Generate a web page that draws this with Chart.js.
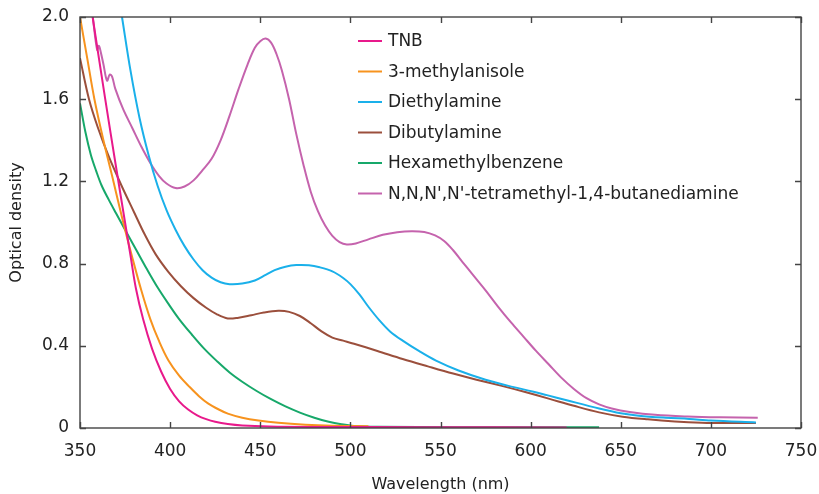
<!DOCTYPE html>
<html>
<head>
<meta charset="utf-8">
<script src="https://cdn.jsdelivr.net/npm/chart.js@4.4.1/dist/chart.umd.min.js"></script>
<style>
  html,body{margin:0;padding:0;background:#fff;}
  #c{display:block;}
</style>
</head>
<body>
<canvas id="c" width="819" height="494"></canvas>
<script>
// absorbance spectra, values
const xTicks = [350, 400, 450, 500, 550, 600, 650, 700, 750];
const yTicks = [0, 0.4, 0.8, 1.2, 1.6, 2.0];

const names = ['TNB', '3-methylanisole', 'Diethylamine', 'Dibutylamine', 'Hexamethylbenzene', "N,N,N',N'-tetramethyl-1,4-butanediamine"];
const colors = ['#e8198b', '#f7931e', '#1ab0ea', '#9b4f3c', '#17a86a', '#c563ad'];

const tnbNm = [357, 364, 370, 375, 378, 381, 385, 390, 395, 400, 405, 410, 415, 420, 425, 432, 440, 455, 480, 540, 620];
const tnbOd = [2.0, 1.6, 1.27, 1.0, 0.84, 0.68, 0.53, 0.385, 0.275, 0.19, 0.13, 0.09, 0.062, 0.043, 0.03, 0.019, 0.012, 0.007, 0.005, 0.004, 0.003];

const anisNm = [350, 354, 358, 363, 368, 374, 379, 384, 389, 394, 399, 405, 411, 416, 421, 427, 432, 440, 449, 460, 475, 490, 510];
const anisOd = [2.0, 1.8, 1.6, 1.4, 1.22, 1.0, 0.83, 0.67, 0.53, 0.42, 0.33, 0.255, 0.198, 0.155, 0.12, 0.09, 0.07, 0.05, 0.036, 0.025, 0.016, 0.011, 0.008];

const dieNm = [373.3, 378, 383, 388, 393, 398, 403, 408, 413, 418, 423, 428, 433, 440, 447, 453, 458, 464, 470, 477, 483, 490, 496, 500, 505, 510, 516, 522, 529, 538, 547.5, 560, 575, 590, 601, 609, 620, 638, 650, 660, 675, 688, 700, 725];
const dieOd = [2.0, 1.74, 1.51, 1.33, 1.18, 1.06, 0.965, 0.885, 0.82, 0.768, 0.732, 0.709, 0.7, 0.703, 0.718, 0.745, 0.768, 0.785, 0.793, 0.792, 0.782, 0.762, 0.73, 0.7, 0.65, 0.59, 0.525, 0.47, 0.425, 0.375, 0.328, 0.28, 0.235, 0.2, 0.178, 0.16, 0.135, 0.095, 0.072, 0.06, 0.05, 0.044, 0.036, 0.027];

const dibNm = [350, 355, 360, 366, 373, 380, 386, 392, 399, 406, 413, 420, 426, 432, 438, 445, 452, 460, 466, 472, 478, 484, 490, 496, 502, 515, 529, 543, 557, 570, 584, 597, 610, 624, 638, 651, 665, 680, 695, 710, 725];
const dibOd = [1.8, 1.6, 1.46, 1.32, 1.18, 1.05, 0.94, 0.845, 0.76, 0.69, 0.632, 0.585, 0.553, 0.533, 0.537, 0.549, 0.562, 0.57, 0.565, 0.545, 0.51, 0.47, 0.44, 0.425, 0.41, 0.375, 0.336, 0.3, 0.265, 0.235, 0.205, 0.175, 0.143, 0.108, 0.076, 0.055, 0.042, 0.032, 0.026, 0.024, 0.024];

const hmbNm = [350, 353, 356, 359, 362, 366, 370, 375, 381, 387, 393, 399, 405, 412, 419, 426, 433, 440, 448, 456, 464, 472, 480, 488, 495, 502, 515, 560, 638];
const hmbOd = [1.58, 1.44, 1.33, 1.25, 1.18, 1.11, 1.045, 0.965, 0.87, 0.775, 0.685, 0.605, 0.53, 0.455, 0.385, 0.325, 0.27, 0.225, 0.18, 0.14, 0.105, 0.075, 0.05, 0.03, 0.018, 0.01, 0.006, 0.004, 0.004];

const tmbNm = [357.1, 359.5, 360.5, 361.5, 363, 365, 366.5, 367.8, 369.6, 374, 379, 384, 389, 394, 398, 403, 408, 413, 418, 423, 428, 433, 438, 443, 447, 450, 453, 456, 459, 462, 466, 470, 474, 478, 482, 486, 490, 494, 498, 503, 510, 518, 526, 534, 541, 547, 552, 557, 562, 568, 575, 582, 589, 596, 603, 610, 617, 624, 631, 638, 645, 655, 669, 687, 705, 726];
const tmbOd = [2.0, 1.84, 1.86, 1.83, 1.77, 1.69, 1.72, 1.71, 1.65, 1.55, 1.46, 1.37, 1.29, 1.225, 1.19, 1.168, 1.175, 1.205, 1.255, 1.31, 1.4, 1.52, 1.65, 1.77, 1.85, 1.882, 1.895, 1.875, 1.82, 1.74, 1.6, 1.43, 1.28, 1.15, 1.055, 0.985, 0.935, 0.905, 0.893, 0.898, 0.918, 0.94, 0.953, 0.958, 0.954, 0.937, 0.91, 0.865, 0.81, 0.745, 0.67, 0.59, 0.515, 0.445, 0.375, 0.31, 0.245, 0.19, 0.145, 0.115, 0.095, 0.078, 0.064, 0.056, 0.052, 0.05];

const series = [[tnbNm, tnbOd], [anisNm, anisOd], [dieNm, dieOd], [dibNm, dibOd], [hmbNm, hmbOd], [tmbNm, tmbOd]];

const FONT = '"DejaVu Sans", "Liberation Sans", Arial, sans-serif';
const AXIS = '#444';

// frame + inward ticks on all four sides, like the original
const framePlugin = {
  id: 'frame',
  afterDatasetsDraw(chart){
    const {ctx, chartArea: a, scales: {x, y}} = chart;
    const len = 6;
    ctx.save();
    ctx.strokeStyle = AXIS;
    ctx.lineWidth = 1.4;
    ctx.strokeRect(a.left, a.top, a.right - a.left, a.bottom - a.top);
    ctx.beginPath();
    xTicks.forEach(v=>{
      const px = Math.round(x.getPixelForValue(v)) + 0.5;
      ctx.moveTo(px, a.bottom); ctx.lineTo(px, a.bottom - len);
      ctx.moveTo(px, a.top); ctx.lineTo(px, a.top + len);
    });
    yTicks.forEach(v=>{
      const py = Math.round(y.getPixelForValue(v)) + 0.5;
      ctx.moveTo(a.left, py); ctx.lineTo(a.left + len, py);
      ctx.moveTo(a.right, py); ctx.lineTo(a.right - len, py);
    });
    ctx.stroke();
    ctx.restore();
  }
};

// legend drawn inside the plot area
const legendPlugin = {
  id: 'inLegend',
  afterDraw(chart){
    const ctx = chart.ctx;
    ctx.save();
    ctx.font = '17px ' + FONT;
    ctx.textBaseline = 'middle';
    chart.data.datasets.forEach((d, i)=>{
      const yy = 41 + i * 30.5;
      ctx.strokeStyle = d.borderColor;
      ctx.lineWidth = 2;
      ctx.beginPath(); ctx.moveTo(358, yy); ctx.lineTo(382, yy); ctx.stroke();
      ctx.fillStyle = '#222';
      ctx.fillText(d.label, 388, yy + 1);
    });
    ctx.restore();
  }
};

const datasets = series.map((s, i)=>({
  label: names[i],
  data: s[0].map((nm, k)=>({x: nm, y: s[1][k]})),
  borderColor: colors[i],
  backgroundColor: colors[i],
  borderWidth: 2,
  pointRadius: 0,
  tension: 0.35,
  fill: false
}));

new Chart(document.getElementById('c'), {
  type: 'line',
  data: { datasets },
  plugins: [framePlugin, legendPlugin],
  options: {
    responsive: false,
    animation: false,
    layout: { padding: { top: 17, right: 18, left: 0, bottom: 0 } },
    plugins: { legend: { display: false }, tooltip: { enabled: false } },
    scales: {
      x: {
        type: 'linear', min: 350, max: 750,
        afterBuildTicks: s=>{ s.ticks = xTicks.map(v=>({value: v})); },
        afterFit: s=>{ s.height = 66; s.paddingLeft = 0; s.paddingRight = 0; },
        grid: { display: false, drawTicks: false },
        border: { display: false },
        ticks: { padding: 13, color: '#222', font: { family: FONT, size: 17 }, maxRotation: 0 },
        title: { display: true, text: 'Wavelength (nm)', color: '#222', font: { family: FONT, size: 16 }, padding: { top: 0, bottom: 0 } }
      },
      y: {
        type: 'linear', min: 0, max: 2,
        afterBuildTicks: s=>{ s.ticks = yTicks.map(v=>({value: v})); },
        afterFit: s=>{ s.width = 80; s.paddingTop = 0; s.paddingBottom = 0; },
        grid: { display: false, drawTicks: false },
        border: { display: false },
        ticks: { padding: 11, color: '#222', font: { family: FONT, size: 17 },
          callback: v=> v === 0 ? '0' : v.toFixed(1) },
        title: { display: true, text: 'Optical density', color: '#222', font: { family: FONT, size: 16 }, padding: { top: 7, bottom: 0 } }
      }
    }
  }
});
</script>
</body>
</html>
